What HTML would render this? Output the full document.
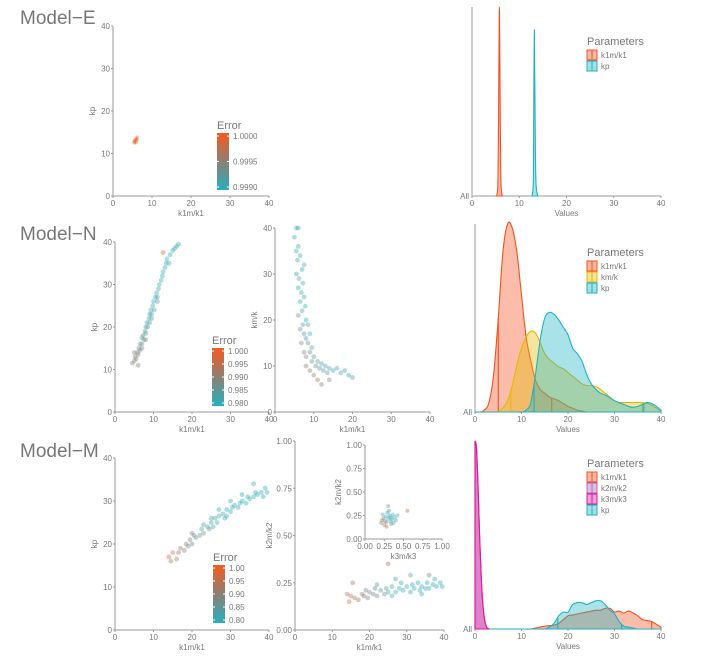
<!DOCTYPE html>
<html><head><meta charset="utf-8">
<style>
body{margin:0;background:#fff;}
svg{display:block;font-family:"Liberation Sans",sans-serif;}
</style></head>
<body>
<svg id="fig" width="722" height="656" viewBox="0 0 722 656"></svg>
<script>
// ---------- DATA ----------
const eK1m=[5.5,5.8,6,5.6,6.2,5.4,5.9,6.1];
const eKp=[12.5,13,13.5,13.2,13.8,12.8,12.6,13.2];
const eErr=[1,1,1,1,1,1,1,0.9];
const nK1m=[4.5,5,5.2,5.5,5.8,6,6.2,6.5,6.5,7,7,7.3,7.5,7.8,8,8,8.3,8.5,8.8,9,9,9.3,9.5,9.8,10,10.2,10.5,10.8,11,11.3,11.5,12,12.3,12.5,13,13.3,13.5,14,14.3,15,15.5,16,16.5,12.5,6,5,7,8,9.5,11];
const nKp=[11.5,12,13,12.5,14,13.5,15,14.5,16,16,17.5,18,17,19,20,18.5,21,20,22,23,21,24,23,25,26,24,27,28,27,29,30,31,32,33,34,35,36,35,37,38,38.5,39,39.5,37.5,11,14,15,17,22,26];
const nErr=[.4,.5,.45,.5,.4,.45,.35,.4,.3,.35,.2,.3,.35,.2,.15,.3,.1,.2,.1,.1,.25,.1,.1,.1,.05,.2,.05,.1,.1,.05,.05,.1,.05,.05,.1,.05,.05,.1,.05,.05,.1,.05,.05,.9,.5,.5,.4,.3,.2,.2];
const n2K1m=[5,5.5,6,5.8,6.5,5.5,6.2,7,6,6.8,7.2,6.5,7.5,7,6,7.8,8,7.2,6.5,8.5,7.5,8,9,6.8,8.5,9.5,7.5,9,10,8,11,9.5,12,10.5,13,11.5,14,12.5,15,16,13.5,17,18,19,20,10,11,14,12,9,8,6,5.5,7.5];
const n2Km=[38,40,36,33,34,30,29,31,27,26,28,24,25,22,21,23,20,19,18,19,17,16,17,15,15,14,13,13,12,12,11,11,10.5,10,10,9.5,9.5,9,9,9.5,8.5,8.5,9,8,7.5,8,7,7,6,9,10,40,35,32];
const n2Err=[.1,.05,.1,.1,.05,.1,.1,.05,.1,.1,.05,.1,.05,.1,.2,.05,.1,.15,.3,.1,.2,.2,.1,.4,.2,.15,.4,.3,.2,.4,.2,.3,.2,.3,.15,.3,.15,.2,.1,.1,.25,.15,.1,.1,.15,.5,.6,.5,.5,.5,.5,.1,.05,.1];
const mK1m=[14,14.5,15,16,16.5,17,18,18.5,19,19.5,20,20.5,21,22,22.5,23,24,24.5,25,25.5,26,26.5,27,28,28.5,29,30,30.5,31,32,32.5,33,34,34.5,35,36,36.5,37,38,38.5,39,39.5,36,30,25,20,27,33,23,29];
const mKp=[17,16,18,16.5,18,19,18.5,20,19.5,21,20,22,21.5,22,23.5,22.5,24,23.5,25,24,26,25,26.5,27,26,28,27.5,28.5,29,28.5,29.5,30,29.5,31,30.5,31,32,31.5,32,31,33,32,34,30,26,22.5,28,31.5,24.5,26.5];
const mErr=[.7,.8,.7,.6,.6,.5,.5,.5,.4,.45,.4,.35,.3,.3,.25,.25,.2,.2,.15,.15,.1,.1,.1,.1,.1,.05,.05,.05,.05,.05,.05,.05,.05,.05,.05,.05,.05,.05,.05,.05,.05,.05,.1,.1,.15,.4,.1,.05,.2,.05];
const m2K1m=[14,14.5,15,16,15.5,17,18,18.5,19,19.5,20,21,21.5,22,23,24,24.5,25,25,26,27,28,28.5,29,30,31,31.5,32,33,33.5,34,35,35.5,36,37,37.5,38,39,39.5,31,36,27,22,26,34];
const m2K2m=[.19,.15,.18,.17,.25,.16,.19,.18,.21,.17,.2,.19,.22,.18,.21,.19,.22,.2,.35,.23,.2,.22,.25,.21,.23,.2,.24,.22,.25,.21,.23,.22,.25,.22,.24,.27,.23,.25,.23,.29,.29,.27,.24,.18,.19];
const m2Err=[.7,.8,.7,.6,.6,.6,.5,.5,.4,.45,.4,.35,.3,.3,.25,.2,.2,.15,.6,.1,.1,.1,.1,.05,.05,.05,.05,.05,.05,.05,.05,.05,.05,.05,.05,.05,.05,.05,.05,.1,.5,.1,.3,.1,.05];
const insK3m=[.22,.25,.28,.3,.32,.27,.35,.33,.24,.29,.36,.31,.38,.26,.21,.34,.4,.3,.55,.23,.42,.37,.28,.33];
const insK2m=[.2,.15,.18,.22,.25,.24,.21,.19,.22,.28,.26,.3,.23,.19,.17,.16,.2,.35,.3,.26,.25,.17,.13,.23];
const insErr=[.6,.6,.4,.1,.1,.1,.05,.1,.3,.1,.05,.1,.05,.4,.7,.3,.1,.5,.6,.2,.1,.2,.6,.05];

const eDenK1mX=[5.2,5.5,5.7,5.8,5.9,6.1,6.4];
const eDenK1mY=[0,.1,.7,1,.7,.1,0];
const eDenKpX=[12.7,13,13.1,13.2,13.3,13.5,13.9];
const eDenKpY=[0,.1,.6,.88,.6,.1,0];

const gridX=[0,1,2,3,4,5,6,7,8,9,10,11,12,13,14,15,16,17,18,19,20,21,22,23,24,25,26,27,28,29,30,31,32,33,34,35,36,37,38,39,40];
const nDenK1m=[0,0,.01,.05,.2,.5,.85,1,.98,.85,.62,.4,.27,.17,.12,.1,.08,.07,.06,.045,.03,.02,.01,.005,0,0,0,0,0,0,0,0,0,0,0,0,0,0,0,0,0];
const nDenKm=[0,0,0,0,0,.005,.02,.06,.14,.25,.34,.4,.43,.42,.37,.31,.28,.26,.24,.23,.21,.19,.17,.15,.14,.14,.135,.12,.1,.08,.06,.05,.05,.05,.05,.05,.05,.045,.035,.02,.005];
const nDenKp=[0,0,0,0,0,0,0,0,0,0,0,.01,.05,.2,.38,.5,.53,.52,.49,.45,.41,.34,.31,.27,.2,.15,.12,.1,.09,.075,.06,.05,.04,.03,.025,.03,.04,.05,.045,.03,.01];
const nQK1m=[5,16.5], nQKm=[7.7,36], nQKp=[12.7,36.3];

const mDenK3mX=[0,.3,.6,1,1.5,2,2.5,3];
const mDenK3mY=[1,.97,.8,.5,.2,.06,.01,0];
const mDenK1m=[0,0,0,0,0,0,0,0,0,0,0,0,0,.005,.01,.015,.018,.02,.03,.05,.07,.075,.08,.085,.09,.095,.1,.1,.11,.11,.09,.095,.085,.095,.085,.07,.05,.045,.04,.025,.01];
const mDenKp=[0,0,0,0,0,0,0,0,0,0,0,0,0,0,0,0,.01,.03,.07,.09,.09,.13,.14,.14,.13,.14,.15,.15,.13,.1,.08,.04,.015,.01,.005,0,0,0,0,0,0];
const mQK1m=[38], mQKp=[17.8,31.5];

const ticks40=[0,10,20,30,40];
const ticks01=[0,0.25,0.5,0.75,1];
const eLegLabels=["1.0000","0.9995","0.9990"];
const nLegLabels=["1.000","0.995","0.990","0.985","0.980"];
const mLegLabels=["1.00","0.95","0.90","0.85","0.80"];

// ---------- DRAWING ----------
const NS="http://www.w3.org/2000/svg";
const svg=document.getElementById('fig');
function mk(tag,attrs,parent){const e=document.createElementNS(NS,tag);for(const k in attrs)e.setAttribute(k,attrs[k]);(parent||svg).appendChild(e);return e;}
function txt(s,x,y,size,fill,anchor,parent){const t=mk('text',{x:x,y:y,'font-size':size,fill:fill,'text-anchor':anchor||'start'},parent);t.textContent=s;return t;}
const ORANGE=[245,90,30],GRAY=[140,128,115],TEAL=[38,175,190];
function errColor(t){let a,b,u;if(t<.5){a=TEAL;b=GRAY;u=t/.5;}else{a=GRAY;b=ORANGE;u=(t-.5)/.5;}
 return 'rgb('+a.map((v,i)=>Math.round(v+(b[i]-v)*u)).join(',')+')';}
function fmt(v,dec){return dec?v.toFixed(2):String(v);}

function axes(cfg,name){
 const g=mk('g',{});
 
 
 const sx=v=>cfg.x0+(v-cfg.xmin)/(cfg.xmax-cfg.xmin)*(cfg.x1-cfg.x0);
 const sy=v=>cfg.y0-(v-cfg.ymin)/(cfg.ymax-cfg.ymin)*(cfg.y0-cfg.y1);
 mk('line',{x1:cfg.x0,y1:cfg.y0,x2:cfg.x1,y2:cfg.y0,stroke:'#9a9a9a','stroke-width':1},g);
 mk('line',{x1:cfg.x0,y1:cfg.y0,x2:cfg.x0,y2:cfg.y1,stroke:cfg.ycol||'#9a9a9a','stroke-width':cfg.yw||1},g);
 cfg.xticks.forEach(v=>{mk('line',{x1:sx(v),y1:cfg.y0,x2:sx(v),y2:cfg.y0+2,stroke:'#9a9a9a'},g);
  txt(fmt(v,cfg.xdec),sx(v),cfg.y0+10,cfg.fs||8,'#777','middle',g);});
 if(cfg.yticks){cfg.yticks.forEach(v=>{mk('line',{x1:cfg.x0-2,y1:sy(v),x2:cfg.x0,y2:sy(v),stroke:'#9a9a9a'},g);
  txt(fmt(v,cfg.ydec),cfg.x0-3,sy(v)+3,cfg.fs||8,'#777','end',g);});}
 if(cfg.allLabel){txt('All',cfg.x0-3,cfg.y0+3,8,'#777','end',g);}
 const xl=txt(cfg.xlabel,(cfg.x0+cfg.x1)/2,cfg.y0+20,8,'#777','middle',g);
 
 if(cfg.ylabel){const yl=txt(cfg.ylabel,0,0,8,'#777','middle',g);
  yl.setAttribute('transform','translate('+(cfg.ylx)+','+((cfg.y0+cfg.y1)/2)+') rotate(-90)');
  }
 return {g,sx,sy};
}
function scatter(ax,xs,ys,es,name,r){
 xs.forEach((x,i)=>{const c=mk('circle',{cx:ax.sx(x),cy:ax.sy(ys[i]),r:r||2.4,fill:errColor(es[i]),'fill-opacity':.4},ax.g);
  
  });
}
function smoothPath(pts){
 let d='M'+pts[0][0].toFixed(1)+','+pts[0][1].toFixed(1);
 for(let i=0;i<pts.length-1;i++){
  const p0=pts[Math.max(0,i-1)],p1=pts[i],p2=pts[i+1],p3=pts[Math.min(pts.length-1,i+2)];
  const c1=[p1[0]+(p2[0]-p0[0])/6,p1[1]+(p2[1]-p0[1])/6];
  const c2=[p2[0]-(p3[0]-p1[0])/6,p2[1]-(p3[1]-p1[1])/6];
  d+=' C'+c1[0].toFixed(1)+','+Math.min(c1[1],Math.max(p1[1],p2[1])+0).toFixed(1)+' '+c2[0].toFixed(1)+','+c2[1].toFixed(1)+' '+p2[0].toFixed(1)+','+p2[1].toFixed(1);
 }
 return d;
}
function density(ax,xs,ys,color,name,quant){
 const base=ax.sy(0);
 const pts=xs.map((x,i)=>[ax.sx(x),Math.min(base,ax.sy(ys[i]))]);
 let d=smoothPath(pts)+' L'+pts[pts.length-1][0]+','+base+' L'+pts[0][0]+','+base+' Z';
 const p=mk('path',{d:d,fill:color,'fill-opacity':.38,stroke:color,'stroke-width':1.1,'stroke-linejoin':'round'},ax.g);
 
 
 (quant||[]).forEach(q=>{let h=0;for(let i=0;i<xs.length-1;i++){if(q>=xs[i]&&q<=xs[i+1]){h=ys[i]+(ys[i+1]-ys[i])*(q-xs[i])/(xs[i+1]-xs[i]);}}
  const l=mk('line',{x1:ax.sx(q),y1:ax.sy(0),x2:ax.sx(q),y2:ax.sy(h),stroke:color,'stroke-width':1.1},ax.g);
  
  });
}
function colorbar(x,y,h,labels,name){
 const g=mk('g',{});
 
 
 txt('Error',x,y-4,11,'#777','start',g);
 const id=name+'-grad';
 const lg=mk('linearGradient',{id:id,x1:0,y1:0,x2:0,y2:1},mk('defs',{},g));
 mk('stop',{offset:'0',  'stop-color':errColor(1)},lg);
 mk('stop',{offset:'0.5','stop-color':errColor(0.5)},lg);
 mk('stop',{offset:'1','stop-color':errColor(0)},lg);
 mk('rect',{x:x,y:y,width:12,height:h,fill:'url(#'+id+')'},g);
 const step=(h-6)/(labels.length-1);
 labels.forEach((s,i)=>{const yy=y+3+i*step;
  mk('line',{x1:x,y1:yy,x2:x+2,y2:yy,stroke:'#fff'},g);mk('line',{x1:x+10,y1:yy,x2:x+12,y2:yy,stroke:'#fff'},g);
  txt(s,x+16,yy+3,8,'#777','start',g);});
}
function legend(x,y,items,name){
 const g=mk('g',{});
 
 
 txt('Parameters',x,y,11,'#777','start',g);
 items.forEach((it,i)=>{const yy=y+5+i*11;
  const e=mk('g',{},g);
  
  
  mk('rect',{x:x,y:yy,width:10,height:10,fill:it[1],'fill-opacity':.4,stroke:it[1],'stroke-width':1},e);
  mk('line',{x1:x+5,y1:yy,x2:x+5,y2:yy+10,stroke:it[1],'stroke-width':1},e);
  txt(it[0],x+14,yy+8,8,'#777','start',e);});
}
function title(s,y,name){const t=txt(s,20,y,19,'#777','start');}

const C_OR='#f4511e',C_TE='#1eb2c2',C_YE='#e6b800',C_MA='#e0179b',C_PU='#b060b8';

// Row E
title('Model−E',24,'model-e-title');
let a=axes({x0:113,x1:269,y0:196,y1:26,xmin:0,xmax:40,ymin:0,ymax:40,xticks:ticks40,yticks:ticks40,xlabel:'k1m/k1',ylabel:'kp',ylx:95},'model-e-scatter');
scatter(a,eK1m,eKp,eErr,'model-e-point',1.8);
colorbar(217,133,57,eLegLabels,'model-e-error-legend');
a=axes({x0:472,x1:661,y0:196,y1:7,xmin:0,xmax:40,ymin:0,ymax:1,xticks:ticks40,xlabel:'Values',allLabel:true,ycol:'#bbb',yw:1.5},'model-e-density');
density(a,eDenK1mX,eDenK1mY,C_OR,'density-k1m-k1');
density(a,eDenKpX,eDenKpY,C_TE,'density-kp');
legend(587,45,[['k1m/k1',C_OR],['kp',C_TE]],'model-e-legend');

// Row N
title('Model−N',240,'model-n-title');
a=axes({x0:115,x1:269,y0:412,y1:242,xmin:0,xmax:40,ymin:0,ymax:40,xticks:ticks40,yticks:ticks40,xlabel:'k1m/k1',ylabel:'kp',ylx:97},'model-n-scatter-kp');
scatter(a,nK1m,nKp,nErr,'model-n-point');
colorbar(212,348,58,nLegLabels,'model-n-error-legend');
a=axes({x0:275,x1:430,y0:412,y1:228,xmin:0,xmax:40,ymin:0,ymax:40,xticks:ticks40,yticks:ticks40,xlabel:'k1m/k1',ylabel:'km/k',ylx:257},'model-n-scatter-km');
scatter(a,n2K1m,n2Km,n2Err,'model-n-km-point');
a=axes({x0:475,x1:661,y0:412,y1:224,xmin:0,xmax:40,ymin:0,ymax:1,xticks:ticks40,xlabel:'Values',allLabel:true},'model-n-density');
density(a,gridX,nDenK1m,C_OR,'density-k1m-k1',nQK1m);
density(a,gridX,nDenKm,C_YE,'density-km-k',nQKm);
density(a,gridX,nDenKp,C_TE,'density-kp',nQKp);
legend(587,256,[['k1m/k1',C_OR],['km/k',C_YE],['kp',C_TE]],'model-n-legend');

// Row M
title('Model−M',457,'model-m-title');
a=axes({x0:115,x1:269,y0:630,y1:458,xmin:0,xmax:40,ymin:0,ymax:40,xticks:ticks40,yticks:ticks40,xlabel:'k1m/k1',ylabel:'kp',ylx:97},'model-m-scatter-kp');
scatter(a,mK1m,mKp,mErr,'model-m-point');
colorbar(213,565,58,mLegLabels,'model-m-error-legend');
a=axes({x0:295,x1:444,y0:630,y1:441,xmin:0,xmax:40,ymin:0,ymax:1,xticks:ticks40,yticks:ticks01,ydec:true,xlabel:'k1m/k1',ylabel:'k2m/k2',ylx:272},'model-m-scatter-k2m');
scatter(a,m2K1m,m2K2m,m2Err,'model-m-k2m-point');
a=axes({x0:365,x1:442,y0:539,y1:445,xmin:0,xmax:1,ymin:0,ymax:1,xticks:ticks01,yticks:ticks01,xdec:true,ydec:true,xlabel:'k3m/k3',ylabel:'k2m/k2',ylx:341},'model-m-inset');
scatter(a,insK3m,insK2m,insErr,'model-m-inset-point',2);
a=axes({x0:475,x1:661,y0:629,y1:441,xmin:0,xmax:40,ymin:0,ymax:1,xticks:ticks40,xlabel:'Values',allLabel:true},'model-m-density');
density(a,gridX,mDenK1m,C_OR,'density-k1m-k1',mQK1m);
density(a,gridX,mDenKp,C_TE,'density-kp',mQKp);
density(a,mDenK3mX,mDenK3mY,C_PU,'density-k2m-k2');
density(a,mDenK3mX,mDenK3mY,C_MA,'density-k3m-k3');
legend(587,467,[['k1m/k1',C_OR],['k2m/k2',C_PU],['k3m/k3',C_MA],['kp',C_TE]],'model-m-legend');
</script>
</body></html>
